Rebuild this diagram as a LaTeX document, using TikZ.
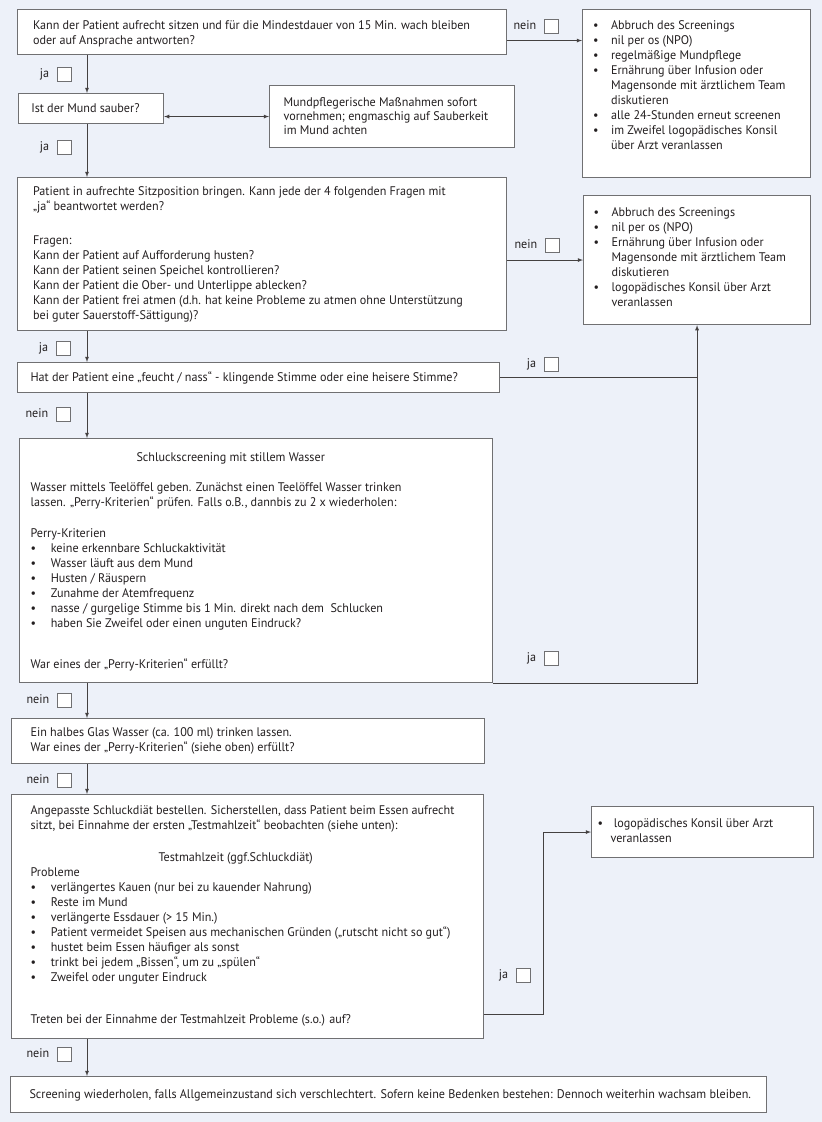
\documentclass[tikz,border=0pt]{standalone}
\usepackage{fontspec}
\setmainfont[FakeStretch=0.97]{PT Sans}
\usetikzlibrary{arrows,positioning,backgrounds,calc}
\definecolor{screen-bg}{RGB}{237,241,249}
\definecolor{screen-line}{RGB}{112,112,114}
\definecolor{screen-text}{RGB}{35,31,32}
\setlength{\fboxsep}{0pt}
\setlength{\fboxrule}{0.8pt}
% text block: width, height, left pad, first baseline
\newcommand{\boxtext}[5]{\parbox[t][#2][t]{#1}{\leftskip=#3\relax\rightskip=0pt plus 1fil\relax
    \parindent=0pt\vspace*{\dimexpr#4-15pt\relax}\prevdepth=0pt #5}}
\newcommand{\itm}[1][18pt]{\par\hangindent=#1\hangafter=1\noindent\makebox[#1][l]{\textbullet}}
\newcommand{\tick}{\hspace{8pt}\raisebox{-3.5pt}{\fcolorbox{screen-line}{white}{\rule{0pt}{13pt}\rule{13pt}{0pt}}}}
\tikzstyle{a}=[anchor=north west]
\tikzstyle{box}=[a,draw=screen-line,line width=1.1pt,fill=white,inner sep=0pt,text=screen-text]
\tikzstyle{answer}=[anchor=east,inner sep=0pt,text=screen-text]
\tikzstyle{link}=[draw=screen-text!85,line width=0.8pt]
\tikzstyle{arrow}=[link,-latex]

\begin{document}
\begin{tikzpicture}[x=1pt,y=1pt,font=\fontsize{12.5}{15}\selectfont]
    \fill[screen-bg] (0,0) rectangle (822,-1122);
    \useasboundingbox (0,0) rectangle (822,-1122);

    \coordinate (spine) at (87,0);
    \coordinate (detour) at (543,0);

    \node[box] at (17,-9) (sitting) {\boxtext{489pt}{45pt}{15.5pt}{19.5pt}{Kann der Patient aufrecht sitzen und für die Mindestdauer von 15 Min. wach bleiben\\ oder auf Ansprache antworten?}};

    \node[box] at (582,-9) (abort) {\boxtext{228pt}{168pt}{10.5pt}{19.5pt}{\itm Abbruch des Screenings
        \itm nil per os (NPO)
        \itm regelmäßige Mundpflege
        \itm Ernährung über Infusion oder\\ Magensonde mit ärztlichem Team\\ diskutieren
        \itm alle 24-Stunden erneut screenen
        \itm im Zweifel logopädisches Konsil\\ über Arzt veranlassen}};

    \node[box] at (18,-93) (mouth) {\boxtext{145pt}{30pt}{12.7pt}{18.5pt}{Ist der Mund sauber?}};
    \node[box] at (269,-85) (care) {\boxtext{245pt}{62pt}{14pt}{22pt}{\baselineskip=14pt Mundpflegerische Maßnahmen sofort\\ vornehmen; engmaschig auf Sauberkeit\\ im Mund achten}};

    \node[box] at (17,-177) (fourq) {\boxtext{489pt}{153pt}{15.5pt}{17.5pt}{Patient in aufrechte Sitzposition bringen. Kann jede der 4 folgenden Fragen mit\\ „ja“ beantwortet werden?\\[19pt]
        Fragen:\\
        Kann der Patient auf Aufforderung husten?\\
        Kann der Patient seinen Speichel kontrollieren?\\
        Kann der Patient die Ober- und Unterlippe ablecken?\\
        Kann der Patient frei atmen (d.h. hat keine Probleme zu atmen ohne Unterstützung\\ bei guter Sauerstoff-Sättigung)?}};

    \node[box] at (583,-195) (abortb) {\boxtext{227pt}{129pt}{10pt}{20.5pt}{\itm Abbruch des Screenings
        \itm nil per os (NPO)
        \itm Ernährung über Infusion oder\\ Magensonde mit ärztlichem Team\\ diskutieren
        \itm logopädisches Konsil über Arzt\\ veranlassen}};

    \node[box] at (17,-362) (voice) {\boxtext{482pt}{30pt}{13pt}{18.5pt}{Hat der Patient eine „feucht / nass“ - klingende Stimme oder eine heisere Stimme?}};

    \node[box] at (19,-438) (water) {\boxtext{473pt}{244pt}{11pt}{22.5pt}{\hspace*{106pt}Schluckscreening mit stillem Wasser\\[15pt]
        Wasser mittels Teelöffel geben. Zunächst einen Teelöffel Wasser trinken\\ lassen. „Perry-Kriterien“ prüfen. Falls o.B., dannbis zu 2 x wiederholen:\\[16pt]
        Perry-Kriterien
        \itm[17pt] keine erkennbare Schluckaktivität
        \itm[17pt] Wasser läuft aus dem Mund
        \itm[17pt] Husten / Räuspern
        \itm[17pt] Zunahme der Atemfrequenz
        \itm[17pt] nasse / gurgelige Stimme bis 1 Min. direkt nach dem~ Schlucken
        \itm[17pt] haben Sie Zweifel oder einen unguten Eindruck?
        \par\vspace{26pt}War eines der „Perry-Kriterien“ erfüllt?}};

    \node[box] at (11,-718) (glass) {\boxtext{473pt}{45pt}{19pt}{17.5pt}{Ein halbes Glas Wasser (ca. 100 ml) trinken lassen.\\ War eines der „Perry-Kriterien“ (siehe oben) erfüllt?}};

    \node[box] at (11,-794) (meal) {\boxtext{472pt}{244pt}{19pt}{19.5pt}{Angepasste Schluckdiät bestellen. Sicherstellen, dass Patient beim Essen aufrecht\\ sitzt, bei Einnahme der ersten „Testmahlzeit“ beobachten (siehe unten):\\[17pt]
        \hspace*{128pt}Testmahlzeit (ggf.Schluckdiät)\\
        Probleme
        \itm[17pt] verlängertes Kauen (nur bei zu kauender Nahrung)
        \itm[17pt] Reste im Mund
        \itm[17pt] verlängerte Essdauer (> 15 Min.)
        \itm[17pt] Patient vermeidet Speisen aus mechanischen Gründen („rutscht nicht so gut“)
        \itm[17pt] hustet beim Essen häufiger als sonst
        \itm[17pt] trinkt bei jedem „Bissen“, um zu „spülen“
        \itm[17pt] Zweifel oder unguter Eindruck
        \par\vspace{27pt}Treten bei der Einnahme der Testmahlzeit Probleme (s.o.) auf?}};

    \node[box] at (591,-806) (consult) {\boxtext{222pt}{51pt}{6pt}{20.5pt}{\itm[13pt] logopädisches Konsil über Arzt\\ veranlassen}};

    \node[box] at (10,-1076) (watch) {\boxtext{756pt}{36pt}{19pt}{21.5pt}{Screening wiederholen, falls Allgemeinzustand sich verschlechtert. Sofern keine Bedenken bestehen: Dennoch weiterhin wachsam bleiben.}};

    % answers
    \node[answer] at (559,-26) (neinsit) {nein\tick};
    \node[answer] at (72,-74) (jasit) {ja\tick};
    \node[answer] at (72,-147) (jamouth) {ja\tick};
    \node[answer] at (560,-245) (neinfour) {nein\tick};
    \node[answer] at (71,-348) (jafour) {ja\tick};
    \node[answer] at (559,-364) (javoice) {ja\tick};
    \node[answer] at (71,-414) (neinvoice) {nein\tick};
    \node[answer] at (559,-658) (jawater) {ja\tick};
    \node[answer] at (72,-700) (neinwater) {nein\tick};
    \node[answer] at (72,-780) (neinglass) {nein\tick};
    \node[answer] at (531,-975) (jameal) {ja\tick};
    \node[answer] at (72,-1054) (neinmeal) {nein\tick};

    % connectors
    \draw[arrow] ([yshift=-8.5pt]sitting.east) -- ([yshift=-8.5pt]sitting.east -| abort.west);
    \draw[arrow] (sitting.south -| spine) -- (mouth.north -| spine);
    \draw[link,latex-latex] (mouth.east |- care.west) -- (care.west);
    \draw[arrow] (mouth.south -| spine) -- (fourq.north -| spine);
    \draw[arrow] (fourq.east |- abortb.west) -- (abortb.west);
    \draw[arrow] (fourq.south -| spine) -- (voice.north -| spine);
    \draw[arrow] (voice.east) -| (abortb.south);
    \draw[link] (water.south east) -| (abortb.south |- voice.east);
    \draw[arrow] (voice.south -| spine) -- (water.north -| spine);
    \draw[arrow] (water.south -| spine) -- (glass.north -| spine);
    \draw[arrow] (glass.south -| spine) -- (meal.north -| spine);
    \draw[arrow] ([yshift=25pt]meal.south east) -| (detour |- consult.west) -- (consult.west);
    \draw[arrow] (meal.south -| spine) -- (watch.north -| spine);
\end{tikzpicture}
\end{document}
